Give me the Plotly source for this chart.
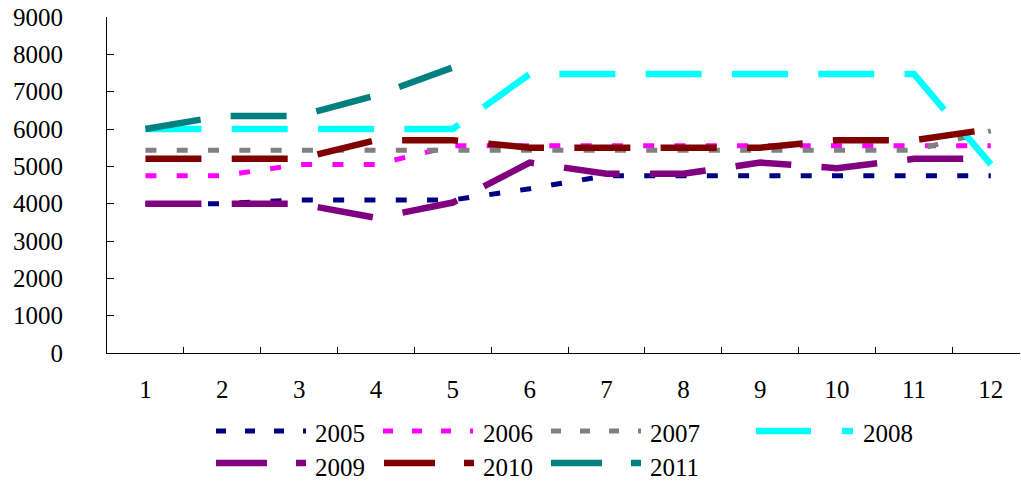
import plotly.graph_objects as go

# ---------------- data ----------------
months = ["1", "2", "3", "4", "5", "6", "7", "8", "9", "10", "11", "12"]
years = ["2005", "2006", "2007", "2008", "2009", "2010", "2011"]

s2005 = [4000, 4000, 4100, 4100, 4100, 4400, 4750, 4750, 4750, 4750, 4750, 4750]
s2006 = [4750, 4750, 5050, 5050, 5550, 5550, 5550, 5550, 5550, 5550, 5550, 5550]
s2007 = [5430, 5430, 5430, 5430, 5430, 5430, 5430, 5430, 5430, 5430, 5430, 5950]
s2008 = [6000, 6000, 6000, 6000, 6000, 7470, 7470, 7470, 7470, 7470, 7470, 5050]
s2009 = [4000, 4000, 4000, 3620, 4030, 5100, 4800, 4800, 5100, 4950, 5200, 5200]
s2010 = [5200, 5200, 5200, 5700, 5700, 5500, 5500, 5500, 5500, 5700, 5700, 6000]
s2011 = [6000, 6350, 6350, 6900, 7650]

series = [s2005, s2006, s2007, s2008, s2009, s2010, s2011]

y_ticks = [0, 1000, 2000, 3000, 4000, 5000, 6000, 7000, 8000, 9000]

# ---------------- styles ----------------
colors = ["#000080", "#FF00FF", "#808080", "#00FFFF", "#800080", "#800000", "#008080"]
widths = [5, 5, 5, 6.5, 6.5, 6.5, 6.5]
dashes = ["11px,20.3px"] * 3 + ["56px,30.3px"] * 4
legend_dashes = ["10px,19px"] * 3 + ["55px,31px", "51px,29px", "51px,29px", "51px,29px"]

FONT = "Liberation Serif"
FS = 25

W, H = 1021, 481
plot_left, plot_right, plot_top, plot_bottom = 107, 1020, 17, 353  # pixels
L = plot_left
T = plot_top
R = W - plot_right
B = H - plot_bottom
PW, PH = W - L - R, H - T - B


def px_x(px):
    return (px - L) / PW


def px_y(py):
    return (T + PH - py) / PH


fig = go.Figure()
for name, vals, c, w, d in zip(years, series, colors, widths, dashes):
    fig.add_trace(go.Scatter(
        x=months[:len(vals)], y=vals, name=name, mode="lines",
        line=dict(color=c, width=w, dash=d),
        showlegend=False,
    ))

# ---------------- manual legend ----------------
leg_line_x0 = [216, 383, 551, 756, 216, 384, 551]
leg_line_len = [90, 90, 90, 97, 90, 90, 90]
leg_text_x = [313, 481, 648, 861, 313, 481, 648]
leg_row = [0, 0, 0, 0, 1, 1, 1]
row_line_y = [431, 463]
row_text_y = [433, 467]

shapes = []
annotations = []
for i, name in enumerate(years):
    y_line = row_line_y[leg_row[i]]
    shapes.append(dict(
        type="line", xref="paper", yref="paper",
        x0=px_x(leg_line_x0[i]), x1=px_x(leg_line_x0[i] + leg_line_len[i]),
        y0=px_y(y_line), y1=px_y(y_line),
        line=dict(color=colors[i], width=widths[i], dash=legend_dashes[i]),
    ))
    annotations.append(dict(
        xref="paper", yref="paper", x=px_x(leg_text_x[i]), y=px_y(row_text_y[leg_row[i]]),
        text=name, showarrow=False, xanchor="left", yanchor="middle",
        font=dict(family=FONT, size=FS, color="#000000"),
    ))

fig.update_layout(
    width=W, height=H,
    margin=dict(l=L, r=R, t=T, b=B, pad=0, autoexpand=False),
    paper_bgcolor="white", plot_bgcolor="white",
    shapes=shapes, annotations=annotations,
    showlegend=False,
    font=dict(family=FONT, size=FS, color="#000000"),
)
fig.update_xaxes(
    type="category", categoryorder="array", categoryarray=months,
    range=[-0.5, 11.38],
    showgrid=False, zeroline=False,
    showline=True, linecolor="#000000", linewidth=1,
    ticks="inside", tickson="boundaries", ticklen=6, tickcolor="#000000", tickwidth=1,
    tickfont=dict(family=FONT, size=FS, color="#000000"),
    ticklabelstandoff=14,
)
fig.update_yaxes(
    range=[0, 9000], tickvals=y_ticks, ticktext=[str(v) for v in y_ticks],
    showgrid=False, zeroline=False,
    showline=True, linecolor="#000000", linewidth=1,
    ticks="inside", ticklen=7, tickcolor="#000000", tickwidth=1,
    tickfont=dict(family=FONT, size=FS, color="#000000"),
    ticklabelstandoff=38, ticklabeloverflow="allow",
)

# remove the default 8px page margin so the 1021x481 figure fills the window exactly
fig.write_html(
    "out.html",
    config={"displayModeBar": False},
    post_script="document.body.style.margin='0';",
)
